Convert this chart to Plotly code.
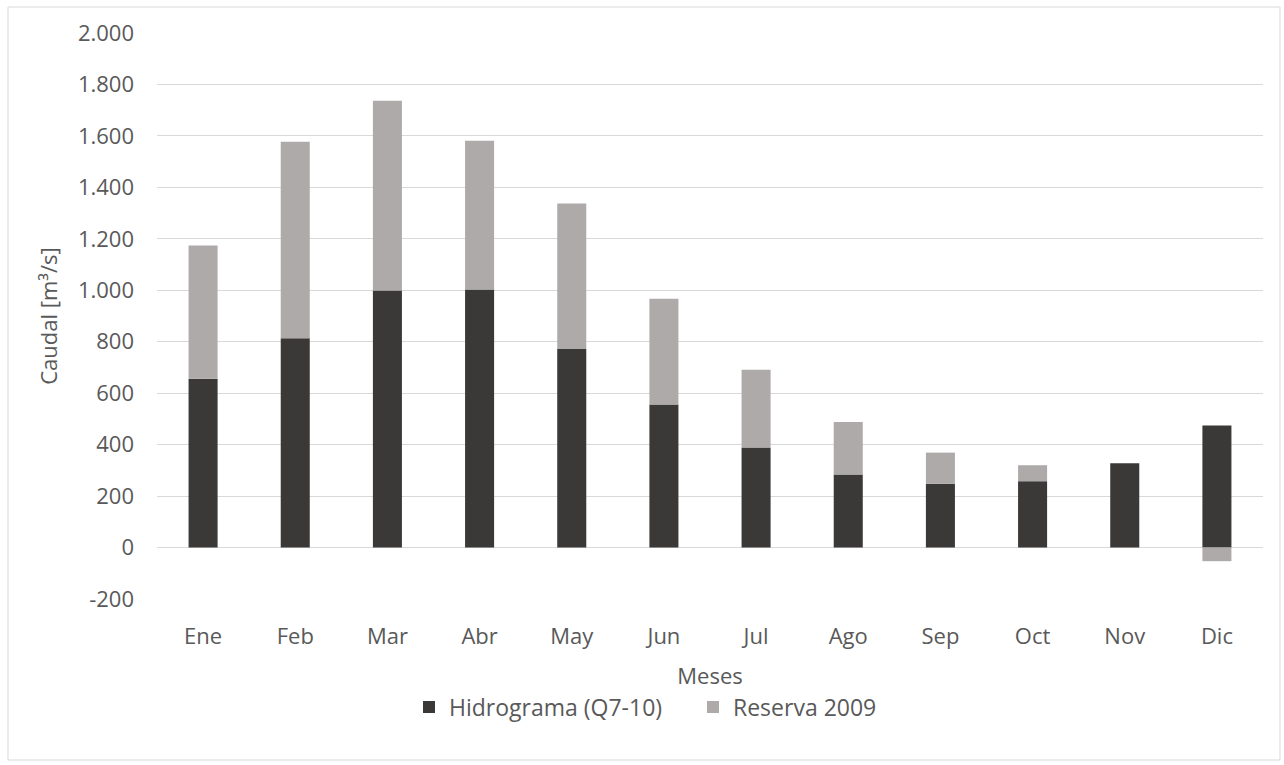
import plotly.graph_objects as go

meses = ["Ene", "Feb", "Mar", "Abr", "May", "Jun", "Jul", "Ago", "Sep", "Oct", "Nov", "Dic"]
hidrograma = [656, 814, 999, 1003, 772, 556, 389, 284, 248, 258, 328, 474]
reserva = [518, 763, 738, 578, 565, 411, 302, 204, 121, 62, 0, -53]
y_ticks = [-200, 0, 200, 400, 600, 800, 1000, 1200, 1400, 1600, 1800, 2000]
y_tick_labels = ["-200", "0", "200", "400", "600", "800", "1.000", "1.200", "1.400", "1.600", "1.800", "2.000"]

FONT = "Open Sans, DejaVu Sans, sans-serif"
TXT = "#595959"
FS = 22

fig = go.Figure()
fig.add_trace(go.Bar(x=meses, y=hidrograma, name="Hidrograma (Q7-10)",
                     marker=dict(color="#3b3838", line=dict(width=0))))
fig.add_trace(go.Bar(x=meses, y=reserva, name="Reserva 2009",
                     marker=dict(color="#aeaaaa", line=dict(width=0))))

fig.update_layout(
    barmode="relative",
    bargap=0.685,
    width=1284, height=765,
    margin=dict(l=157, r=21, t=33, b=166),
    paper_bgcolor="white", plot_bgcolor="white",
    font=dict(family=FONT, size=FS, color=TXT),
    legend=dict(orientation="h", x=(409-157)/1106, xanchor="left", y=-0.191, yanchor="middle",
                font=dict(size=23, color=TXT), traceorder="normal", itemwidth=30,
                entrywidth=239, entrywidthmode="pixels"),
    xaxis=dict(showgrid=False, showline=False, ticks="", tickfont=dict(size=FS, color=TXT),
               ticklabelstandoff=22,
               title=dict(text="Meses", font=dict(size=FS, color=TXT), standoff=19)),
    yaxis=dict(range=[-200, 2000], tickvals=y_ticks, ticktext=y_tick_labels,
               showgrid=True, gridcolor="#d9d9d9", gridwidth=1,
               zeroline=True, zerolinecolor="#d9d9d9", zerolinewidth=1,
               showline=False, ticks="", ticklen=0, ticklabelstandoff=22,
               tickfont=dict(size=FS, color=TXT),
               title=dict(text="Caudal [m³/s]", font=dict(size=FS, color=TXT), standoff=14)),
    shapes=[dict(type="rect", xref="paper", yref="paper",
                 x0=-149/1106, x1=(1280-157)/1106, y0=-(760-599)/566, y1=(599-7)/566,
                 line=dict(color="#d9d9d9", width=1), fillcolor="rgba(0,0,0,0)", layer="below")],
)

fig.write_html("out.html")
